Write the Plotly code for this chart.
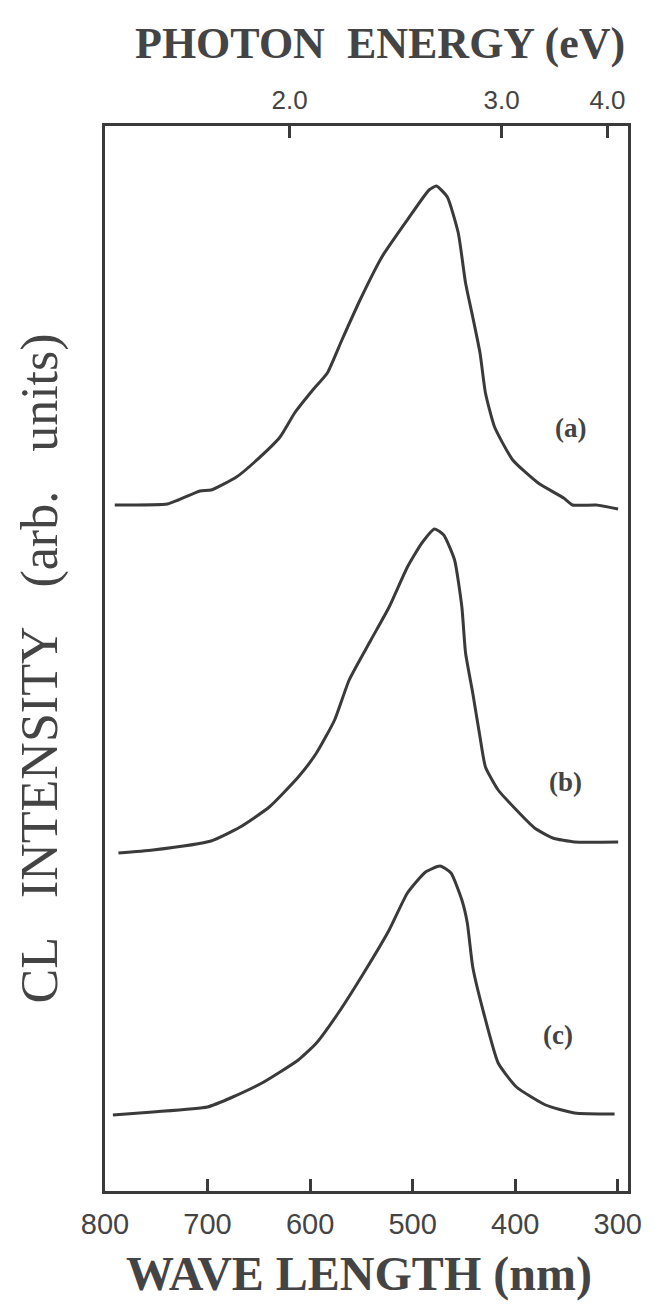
import plotly.graph_objects as go

# ---------------- data ----------------
wl_a = [790.5, 739.1, 728.5, 707.3, 696.6, 671.8, 654.1, 629.3, 615.1, 597.4, 583.2, 569.0,
        551.3, 530.0, 505.2, 484.0, 476.8, 466.2, 455.5, 448.4, 441.4, 434.3, 429.0, 420.1,
        402.4, 377.6, 352.7, 344.0, 320.9, 299.7]
int_a = [0.00, 0.01, 0.05, 0.14, 0.15, 0.28, 0.43, 0.68, 0.92, 1.15, 1.32, 1.65,
         2.05, 2.48, 2.85, 3.15, 3.19, 3.08, 2.72, 2.22, 1.88, 1.52, 1.12, 0.78,
         0.45, 0.22, 0.07, 0.00, 0.00, -0.04]

wl_b = [786.9, 753.3, 696.6, 668.2, 639.8, 611.5, 593.8, 576.1, 561.9, 540.7, 522.9, 505.1,
        491.0, 478.6, 469.7, 459.1, 452.0, 448.4, 441.4, 434.3, 429.0, 416.6, 398.8, 381.1,
        363.4, 342.1, 299.6]
int_b = [-0.01, 0.02, 0.11, 0.25, 0.45, 0.75, 0.99, 1.32, 1.72, 2.12, 2.45, 2.85,
         3.09, 3.23, 3.17, 2.92, 2.45, 1.99, 1.59, 1.15, 0.85, 0.62, 0.42, 0.24,
         0.14, 0.10, 0.10]

wl_c = [792.3, 753.3, 700.1, 675.4, 646.9, 611.5, 593.8, 572.5, 547.7, 522.9, 505.1, 487.4,
        473.3, 462.6, 452.0, 446.7, 441.4, 430.7, 416.6, 398.8, 370.4, 342.1, 303.1]
int_c = [0.00, 0.03, 0.08, 0.18, 0.32, 0.55, 0.72, 1.02, 1.42, 1.85, 2.22, 2.43,
         2.49, 2.42, 2.15, 1.92, 1.48, 1.02, 0.52, 0.28, 0.10, 0.02, 0.01]

curve_names = ["(a)", "(b)", "(c)"]
offsets = [6.86, 3.39, 0.76]               # vertical offsets of the stacked spectra (arb. units)
label_pos_wl = [346, 351, 358]             # label positions (nm)
label_pos_int = [7.63, 4.09, 1.56]         # label positions (arb. units)

wl_ticks = [800, 700, 600, 500, 400, 300]
wl_ticktext = ["800", "700", "600", "500", "400", "300"]
energy_ticks = [2.0, 3.0, 4.0]
energy_ticktext = ["2.0", "3.0", "4.0"]

x_range = [800, 290]
y_range = [0, 10.65]

# ---------------- figure ----------------
INK = "#3a3a3a"
TXT = "#444444"
fig = go.Figure()

for wl, inten, off in zip([wl_a, wl_b, wl_c], [int_a, int_b, int_c], offsets):
    fig.add_trace(go.Scatter(
        x=wl, y=[v + off for v in inten], mode="lines",
        line=dict(color=INK, width=3, shape="spline", smoothing=0.5),
        showlegend=False, hoverinfo="skip"))

# dummy trace on the top (energy) axis
fig.add_trace(go.Scatter(x=[None], y=[None], xaxis="x2", yaxis="y",
                         showlegend=False, hoverinfo="skip"))

for name, lx, ly in zip(curve_names, label_pos_wl, label_pos_int):
    fig.add_annotation(x=lx, y=ly, text="<b>" + name + "</b>", showarrow=False,
                       font=dict(family="Liberation Serif", size=27, color=TXT),
                       xanchor="center", yanchor="middle")

fig.update_layout(
    width=654, height=1312,
    margin=dict(l=105, r=22, t=126, b=121),
    paper_bgcolor="white", plot_bgcolor="white",
    xaxis=dict(range=x_range, tickvals=wl_ticks, ticktext=wl_ticktext,
               ticks="inside", ticklen=12, tickwidth=2.5, tickcolor=INK,
               showline=True, linecolor=INK, linewidth=3, showgrid=False, zeroline=False,
               tickfont=dict(family="Liberation Sans", size=29, color=TXT),
               ticklabelstandoff=5),
    xaxis2=dict(range=x_range, overlaying="x", side="top",
                tickvals=[1240.0 / e for e in energy_ticks], ticktext=energy_ticktext,
                ticks="inside", ticklen=12, tickwidth=3, tickcolor=INK,
                showline=True, linecolor=INK, linewidth=3, showgrid=False, zeroline=False,
                tickfont=dict(family="Liberation Sans", size=26, color=TXT),
                ticklabelstandoff=4),
    yaxis=dict(range=y_range, showticklabels=False, ticks="", showgrid=False, zeroline=False,
               showline=True, linecolor=INK, linewidth=3, mirror=True),
)

fig.add_annotation(xref="paper", yref="paper", x=(382 - 105) / 527, y=1 + (126 - 44) / 1065,
                   text="<b>PHOTON\u00a0 ENERGY (eV)</b>", showarrow=False,
                   font=dict(family="Liberation Serif", size=44, color=TXT),
                   xanchor="center", yanchor="middle")
fig.add_annotation(xref="paper", yref="paper", x=(361 - 105) / 527, y=-(1274 - 1191) / 1065,
                   text="<b>WAVE LENGTH (nm)</b>", showarrow=False,
                   font=dict(family="Liberation Serif", size=48, color=TXT),
                   xanchor="center", yanchor="middle")
fig.add_annotation(xref="paper", yref="paper", x=-(105 - 40) / 527, y=(1191 - 668) / 1065,
                   text="CL\u00a0\u00a0 INTENSITY\u00a0\u00a0 (arb.\u00a0\u00a0 units)", showarrow=False,
                   textangle=-90,
                   font=dict(family="Liberation Serif", size=52, color=TXT),
                   xanchor="center", yanchor="middle")

fig.write_html("out.html")
